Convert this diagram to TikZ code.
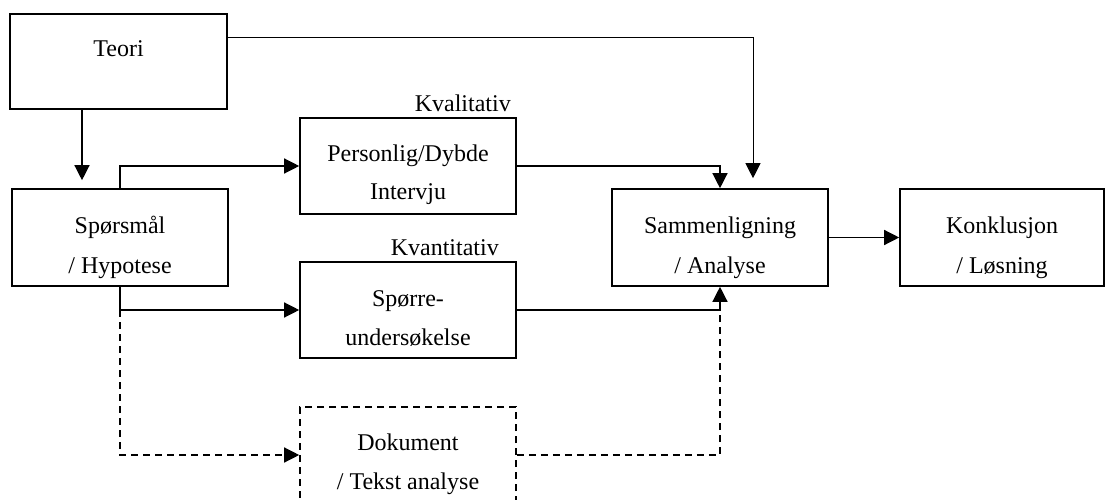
\documentclass[tikz,border=0pt]{standalone}
\usepackage{fontspec}
\setmainfont{Liberation Serif}
\usetikzlibrary{arrows.meta}
\begin{document}
\begin{tikzpicture}[x=1pt,y=-1pt,
  box/.style={draw, line width=1.6pt, rectangle, minimum width=216pt, minimum height=96pt, inner sep=0pt},
  dbox/.style={box, dash pattern=on 7pt off 5pt},
  txt/.style={anchor=base, inner sep=0pt, font=\fontsize{24}{28}\selectfont},
  conn/.style={line width=1.3pt},
  arr/.style={conn, -{Triangle[length=15pt, width=15pt]}},
  darr/.style={arr, dash pattern=on 7pt off 5pt},
  dconn/.style={conn, dash pattern=on 7pt off 5pt}]
\useasboundingbox (0,0) rectangle (1106,500);
\clip (0,0) rectangle (1106,500);
\fill[white] (0,0) rectangle (1106,500);

% boxes
\node[box, minimum width=217pt, minimum height=95pt] (teori) at (118.5,61.5) {};
\node[box, minimum height=97pt] (spm) at (120,237.5) {};
\node[box] (pers) at (408,166) {};
\node[box] (spr) at (408,310) {};
\node[dbox] (dok) at (408,455) {};
\node[box, minimum height=97pt] (samm) at (720,237.5) {};
\node[box, minimum width=204pt, minimum height=97pt] (konk) at (1002,237.5) {};

% texts
\node[txt] (t1) at (118.5,57) {Teori};
\node[txt] (t2) at (120,233) {Spørsmål};
\node[txt] (t3) at (120,273) {/ Hypotese};
\node[txt] (t4) at (408,162) {Personlig/Dybde};
\node[txt] (t5) at (408,200) {Intervju};
\node[txt, anchor=base east] (kval) at (511,112) {Kvalitativ};
\node[txt, anchor=base east] (kvan) at (499,255) {Kvantitativ};
\node[txt] (t6) at (408,306) {Spørre-};
\node[txt] (t7) at (408,345) {undersøkelse};
\node[txt] (t8) at (408,450) {Dokument};
\node[txt] (t9) at (408,489) {/ Tekst analyse};
\node[txt] (t10) at (720,233) {Sammenligning};
\node[txt] (t11) at (720,273) {/ Analyse};
\node[txt] (t12) at (1002,233) {Konklusjon};
\node[txt] (t13) at (1002,273) {/ Løsning};

% helper coordinates
\coordinate (xA) at (82,0);
\coordinate (xB) at (753,0);
\coordinate (yT) at (0,38);
\coordinate (join) at (spr.east -| samm.south);

% connectors
\draw[arr, shorten >=8pt] (teori.south -| xA) -- (spm.north -| xA);
\draw[arr, line width=1pt, shorten >=10pt] (teori.east |- yT) -| (samm.north -| xB);
\draw[arr] (spm.north) |- (pers.west);
\draw[arr] (pers.east) -| (samm.north);
\draw[arr] (spm.south) |- (spr.west);
\draw[arr] (spr.east) -| (samm.south);
\draw[darr] (spm.south |- spr.west) |- (dok.west);
\draw[dconn] (dok.east) -| (join);
\draw[arr] (samm.east) -- (konk.west);
\end{tikzpicture}
\end{document}
